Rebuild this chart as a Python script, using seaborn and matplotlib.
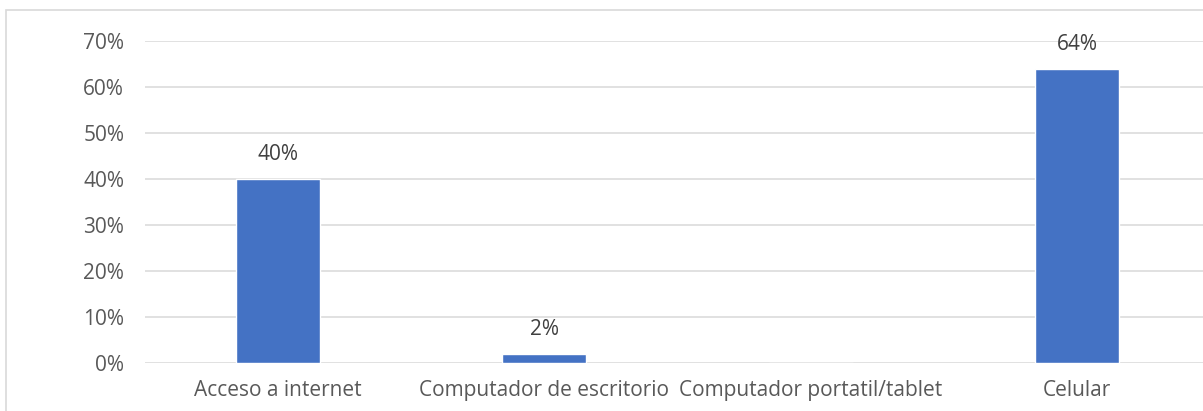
#!/usr/bin/env python3
# plot access to devices / internet (bar chart)

import matplotlib
matplotlib.use('Agg')
import matplotlib.pyplot as plt
import matplotlib.patches as mpatches
from matplotlib.ticker import PercentFormatter
import pandas as pd
import seaborn as sns

# Data =========================================================================

categories = ['Acceso a internet', 'Computador de escritorio',
              'Computador portatil/tablet', 'Celular']
values = [0.40, 0.02, 0.0, 0.64]
y_ticks = [0.0, 0.1, 0.2, 0.3, 0.4, 0.5, 0.6, 0.7]


def main():
    sns.set_theme(style='white')
    plt.rcParams['font.family'] = ['Open Sans', 'DejaVu Sans']

    df = pd.DataFrame({'categoria': categories, 'valor': values})

    fig = plt.figure(figsize=(12.03, 4.11), dpi=100)
    ax = fig.add_axes([0.1205, 0.1168, 0.8855, 0.7834])

    sns.barplot(data=df, x='categoria', y='valor', color='#4472C4',
                saturation=1, width=0.315, ax=ax)

    ax.set_ylim(0, 0.7)
    ax.set_yticks(y_ticks)
    ax.yaxis.set_major_formatter(PercentFormatter(1.0, decimals=0))
    ax.grid(axis='y', color='#d9d9d9', linewidth=1.1)
    ax.set_axisbelow(True)
    for s in ax.spines.values():
        s.set_visible(False)
    ax.set_xlabel('')
    ax.set_ylabel('')
    ax.tick_params(axis='y', length=0, pad=15, labelsize=15,
                   labelcolor='#595959')
    ax.tick_params(axis='x', length=0, pad=12, labelsize=15,
                   labelcolor='#595959')

    labels = ['' if v == 0 else f'{v:.0%}' for v in values]
    ax.bar_label(ax.containers[0], labels=labels, padding=10,
                 fontsize=15, color='#404040')

    # chart border
    fig.patches.append(mpatches.Rectangle(
        (6 / 1203, -0.05), 1.1, 1 - 10 / 411 + 0.05,
        transform=fig.transFigure, fill=False,
        edgecolor='#d9d9d9', linewidth=1.2))

    fig.savefig('out.png', dpi=100)


if __name__ == '__main__':
    main()
